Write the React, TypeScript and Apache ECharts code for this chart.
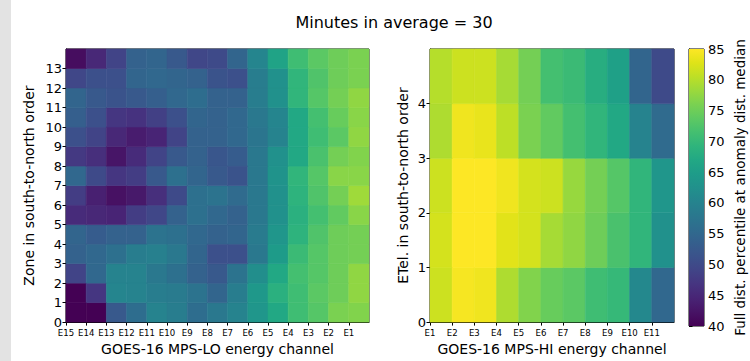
import React, { useEffect, useRef } from 'react';
import * as echarts from 'echarts';

const chartTitle = 'Minutes in average = 30';
const loChannels = ['E15', 'E14', 'E13', 'E12', 'E11', 'E10', 'E9', 'E8', 'E7', 'E6', 'E5', 'E4', 'E3', 'E2', 'E1'];
const hiChannels = ['E1', 'E2', 'E3', 'E4', 'E5', 'E6', 'E7', 'E8', 'E9', 'E10', 'E11'];
const loZones = ['0', '1', '2', '3', '4', '5', '6', '7', '8', '9', '10', '11', '12', '13'];
const hiZones = ['0', '1', '2', '3', '4'];
const colorTicks = [40, 45, 50, 55, 60, 65, 70, 75, 80, 85];

// MPS-LO: one row per zone (0 = bottom), columns E15 .. E1
const loZone0 = [40, 40, 52.5, 56, 60, 59, 56, 58, 60, 63.5, 67, 71, 73, 76, 76.5];
const loZone1 = [40, 47, 60.5, 60, 59, 58.5, 57, 54.5, 59, 64, 68.5, 71, 73.5, 75, 77.5];
const loZone2 = [49, 55, 60, 60, 58, 56.5, 54, 52.5, 57, 62, 67, 71.5, 73, 75, 77.5];
const loZone3 = [54, 55, 56.5, 59, 59.5, 58, 54.5, 51, 51, 58, 64.5, 70.5, 73, 75, 75.5];
const loZone4 = [54.5, 53, 54, 54, 57, 56.5, 55, 54, 54.5, 58.5, 63.5, 69, 72.5, 75, 75.5];
const loZone5 = [45.5, 45, 44.5, 48, 49.5, 54, 56.5, 55, 54, 58, 62.5, 68.5, 71.5, 74, 77];
const loZone6 = [48, 44, 42, 43, 46, 50, 56.5, 57, 55.5, 58, 62.5, 69, 72.5, 75.5, 78.5];
const loZone7 = [55, 50, 47, 48, 52.5, 56.5, 54.5, 52.5, 51.5, 58, 63, 69.5, 73, 77, 77];
const loZone8 = [47.5, 46, 42.5, 45.5, 49, 52.5, 54, 52, 53, 58, 62.5, 67, 72, 75.5, 76.5];
const loZone9 = [51, 49, 45, 43.5, 44.5, 49, 54, 54, 55, 57.5, 60, 67, 71, 73.5, 77.5];
const loZone10 = [53.5, 51, 47, 46.5, 48.5, 51, 54.5, 54, 55, 58, 60.5, 67, 71.5, 74.5, 77];
const loZone11 = [54.5, 52.5, 51.5, 52.5, 53.5, 55, 56, 54, 54, 59, 62.5, 69.5, 73, 75.5, 77.5];
const loZone12 = [49.5, 51, 51, 54.5, 55, 54.5, 54, 51.5, 51, 59, 62.5, 69.5, 72.5, 75, 76];
const loZone13 = [41.5, 45, 49, 54, 54.5, 52.5, 49.5, 50, 54.5, 60.5, 66, 71, 73.5, 75, 76];

// MPS-HI: one row per ETel (0 = bottom), columns E1 .. E11
const hiZone0 = [81.5, 84.5, 84, 79.5, 76.5, 74.5, 73.5, 71, 70, 61, 55];
const hiZone1 = [82, 85, 85, 83, 82, 79, 77.5, 75, 72, 69.5, 62.5];
const hiZone2 = [81.5, 85, 85, 84, 82, 81.5, 78, 75.5, 73, 69.5, 63.5];
const hiZone3 = [79.5, 84, 83.5, 80.5, 76, 74, 71.5, 69.5, 67, 60, 55.5];
const hiZone4 = [80, 81.5, 81.5, 79, 75.5, 71.5, 70.5, 68, 65.5, 54.5, 50];

const loRows = [loZone0, loZone1, loZone2, loZone3, loZone4, loZone5, loZone6, loZone7, loZone8, loZone9, loZone10, loZone11, loZone12, loZone13];
const hiRows = [hiZone0, hiZone1, hiZone2, hiZone3, hiZone4];

const viridis = [
  '#440154', '#471365', '#482475', '#463480', '#414487', '#3b528b', '#355f8d',
  '#2f6c8e', '#2a788e', '#25848e', '#21918c', '#1e9c89', '#22a884', '#2fb47c',
  '#44bf70', '#5ec962', '#7ad151', '#9bd93c', '#bddf26', '#dfe318', '#fde725',
];

const FONT = 'DejaVu Sans';

function toCells(rows: number[][]) {
  const out: number[][] = [];
  rows.forEach((row, y) => row.forEach((v, x) => out.push([x, y, v])));
  return out;
}

const renderCell = (_params: any, api: any) => {
  const x = api.value(0);
  const y = api.value(1);
  const p0 = api.coord([x, y + 1]);
  const p1 = api.coord([x + 1, y]);
  const color = api.visual('color');
  return {
    type: 'rect',
    shape: { x: p0[0], y: p0[1], width: p1[0] - p0[0], height: p1[1] - p0[1] },
    style: { fill: color, stroke: color, lineWidth: 0.6 },
  };
};

function xAxisCfg(gridIndex: number, labels: string[], name: string) {
  const n = labels.length;
  return {
    type: 'value',
    gridIndex,
    min: 0,
    max: n,
    interval: 1,
    name,
    nameLocation: 'middle',
    nameGap: 17,
    nameTextStyle: { fontSize: 14, color: '#000', fontFamily: FONT },
    axisLine: { show: true, onZero: false, lineStyle: { color: '#000', width: 1 } },
    axisTick: { show: true, inside: false, length: 3.5, lineStyle: { color: '#000' }, customValues: labels.map((_, i) => i) },
    axisLabel: {
      fontSize: 9.5,
      color: '#000',
      margin: 5,
      fontFamily: 'DejaVu Sans Condensed, DejaVu Sans',
      formatter: (v: number) => (labels[Math.round(v)] ?? ''),
    },
    splitLine: { show: false },
  };
}

function yAxisCfg(gridIndex: number, labels: string[], name: string, nameGap: number) {
  const n = labels.length;
  return {
    type: 'value',
    gridIndex,
    min: 0,
    max: n,
    interval: 1,
    name,
    nameLocation: 'middle',
    nameGap,
    nameRotate: 90,
    nameTextStyle: { fontSize: 14, color: '#000', fontFamily: FONT },
    axisLine: { show: true, onZero: false, lineStyle: { color: '#000', width: 1 } },
    axisTick: { show: true, inside: false, length: 3.5, lineStyle: { color: '#000' }, customValues: labels.map((_, i) => i) },
    axisLabel: {
      fontSize: 13,
      color: '#000',
      margin: 4,
      fontFamily: FONT,
      formatter: (v: number) => (labels[Math.round(v)] ?? ''),
    },
    splitLine: { show: false },
  };
}

export default function App() {
  const ref = useRef<HTMLDivElement>(null);

  useEffect(() => {
    document.body.style.margin = '0';
    if (!ref.current) return;
    const chart = echarts.init(ref.current, undefined, { renderer: 'svg' });
    const option: any = {
      animation: false,
      backgroundColor: '#ffffff',
      textStyle: { fontFamily: FONT },
      title: {
        text: chartTitle,
        left: 389,
        top: 9,
        textAlign: 'center',
        textStyle: { fontSize: 16, fontWeight: 'normal', color: '#000', fontFamily: FONT },
      },
      graphic: [
        { type: 'rect', left: 0, top: 0, shape: { x: 0, y: 0, width: 11, height: 361 }, style: { fill: '#e3e3e3' }, silent: true, z: -10 },
      ],
      grid: [
        { left: 66, top: 49, width: 303, height: 278, show: true, borderColor: '#000', borderWidth: 1, backgroundColor: 'transparent', containLabel: false },
        { left: 430, top: 49, width: 244, height: 277, show: true, borderColor: '#000', borderWidth: 1, backgroundColor: 'transparent', containLabel: false },
        { left: 689, top: 49, width: 15, height: 277, show: true, borderColor: '#000', borderWidth: 1, backgroundColor: 'transparent', containLabel: false },
      ],
      xAxis: [
        xAxisCfg(0, loChannels, 'GOES-16 MPS-LO energy channel'),
        xAxisCfg(1, hiChannels, 'GOES-16 MPS-HI energy channel'),
        { type: 'value', gridIndex: 2, min: 0, max: 1, show: false },
      ],
      yAxis: [
        yAxisCfg(0, loZones, 'Zone in south-to-north order', 30),
        yAxisCfg(1, hiZones, 'ETel. in south-to-north order', 20),
        {
          type: 'value',
          gridIndex: 2,
          position: 'right',
          min: colorTicks[0],
          max: colorTicks[colorTicks.length - 1],
          interval: 5,
          name: 'Full dist. percentile at anomaly dist. median',
          nameLocation: 'middle',
          nameGap: 29,
          nameRotate: 90,
          nameTextStyle: { fontSize: 13.5, color: '#000', fontFamily: FONT },
          axisLine: { show: true, lineStyle: { color: '#000', width: 1 } },
          axisTick: { show: true, inside: false, length: 3.5, lineStyle: { color: '#000' } },
          axisLabel: { fontSize: 13, color: '#000', margin: 4, fontFamily: FONT },
          splitLine: { show: false },
        },
      ],
      visualMap: {
        type: 'continuous',
        show: false,
        min: colorTicks[0],
        max: colorTicks[colorTicks.length - 1],
        dimension: 2,
        seriesIndex: [0, 1],
        inRange: { color: viridis },
      },
      series: [
        {
          type: 'custom',
          xAxisIndex: 0,
          yAxisIndex: 0,
          data: toCells(loRows),
          encode: { x: 0, y: 1 },
          renderItem: renderCell,
          silent: true,
        },
        {
          type: 'custom',
          xAxisIndex: 1,
          yAxisIndex: 1,
          data: toCells(hiRows),
          encode: { x: 0, y: 1 },
          renderItem: renderCell,
          silent: true,
        },
        {
          type: 'custom',
          xAxisIndex: 2,
          yAxisIndex: 2,
          data: [[0, colorTicks[0]]],
          encode: { x: 0, y: 1 },
          silent: true,
          renderItem: (_p: any, api: any) => {
            const p0 = api.coord([0, colorTicks[colorTicks.length - 1]]);
            const p1 = api.coord([1, colorTicks[0]]);
            return {
              type: 'rect',
              shape: { x: p0[0], y: p0[1], width: p1[0] - p0[0], height: p1[1] - p0[1] },
              style: {
                fill: {
                  type: 'linear', x: 0, y: 1, x2: 0, y2: 0,
                  colorStops: viridis.map((c, i) => ({ offset: i / (viridis.length - 1), color: c })),
                },
              },
            };
          },
        },
      ],
    };
    chart.setOption(option);
    return () => chart.dispose();
  }, []);

  return (
    <div style={{ position: 'fixed', left: 0, top: 0, width: 750, height: 361, background: '#fff' }}>
      <div ref={ref} style={{ width: 750, height: 361 }} />
    </div>
  );
}
